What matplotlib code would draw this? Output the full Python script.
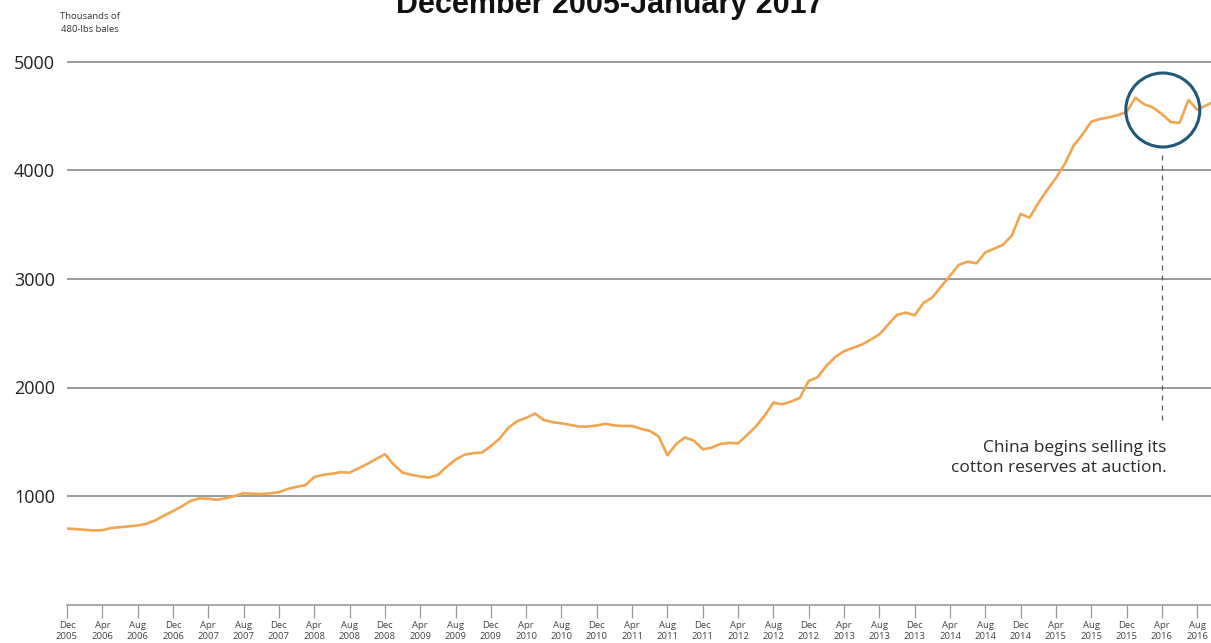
import matplotlib
matplotlib.use("Agg")
import matplotlib.pyplot as plt
from matplotlib.patches import Ellipse

# ---- data -------------------------------------------------------------
tick_labels = []
for i in range(33):
    m = (11 + 4 * i)
    yr = 2005 + m // 12
    mon = ["Jan", "Feb", "Mar", "Apr", "May", "Jun", "Jul", "Aug", "Sep", "Oct", "Nov", "Dec"][m % 12]
    tick_labels.append(f"{mon}\n{yr}")

stocks = [
    700, 695, 688, 682, 685, 705, 712, 720, 728, 745,
    775, 820, 860, 905, 955, 978, 975, 965, 980, 1000,
    1025, 1022, 1018, 1025, 1035, 1065, 1085, 1100, 1175, 1195,
    1205, 1220, 1215, 1255, 1295, 1340, 1385, 1290, 1215, 1195,
    1180, 1170, 1195, 1270, 1335, 1380, 1395, 1400, 1460, 1530,
    1630, 1690, 1720, 1760, 1700, 1680, 1670, 1655, 1640, 1640,
    1650, 1665, 1650, 1645, 1645, 1620, 1600, 1550, 1375, 1480,
    1540, 1510, 1430, 1445, 1480, 1490, 1485, 1560, 1640, 1740,
    1860, 1845, 1870, 1905, 2060, 2095, 2200, 2280, 2335, 2365,
    2395, 2440, 2490, 2580, 2670, 2690, 2665, 2780, 2830, 2930,
    3030, 3130, 3160, 3145, 3245, 3280, 3315, 3400, 3600, 3565,
    3700, 3820, 3930, 4060, 4230, 4330, 4450, 4475, 4490, 4510,
    4540, 4670, 4610, 4580, 4520, 4445, 4440, 4650, 4560, 4600,
    4640,
]
yticks = [1000, 2000, 3000, 4000, 5000]
event_month = 124  # Apr 2016
title = "December 2005-January 2017"
ylabel = "Thousands of\n480-lbs bales"
note = "China begins selling its\ncotton reserves at auction."

# ---- figure -----------------------------------------------------------
W, H = 1211, 643
fig = plt.figure(figsize=(W / 100, H / 100), dpi=100)
ax_left = 67 / W
ax_bottom = 1 - 604.5 / H
ax_top_px = 40.3
ax = fig.add_axes([ax_left, ax_bottom, 1 - ax_left, (604.5 - ax_top_px) / H])

x = list(range(len(stocks)))
ax.plot(x, stocks, color="#F2A550", lw=1.9, solid_joinstyle="round", zorder=3)

ax.set_xlim(0, (W - 67) / 8.83)
ax.set_ylim(0, 5200)

for v in yticks:
    ax.axhline(v, color="#9a9a9a", lw=1.4, zorder=1)

ax.set_yticks(yticks)
ax.set_yticklabels([str(v) for v in yticks], fontsize=13, family="Open Sans",
                   color="#222222")
ax.tick_params(axis="y", length=0, pad=8.5)

ax.set_xticks(range(0, 129, 4))
ax.set_xticklabels(tick_labels, fontsize=6.8, family="Open Sans", color="#444444",
                   linespacing=1.25)
ax.tick_params(axis="x", length=9, width=0.9, color="#9a9a9a", pad=3,
               direction="out")

for s in ["top", "right", "left"]:
    ax.spines[s].set_visible(False)
ax.spines["bottom"].set_color("#9a9a9a")
ax.spines["bottom"].set_linewidth(1.2)
ax.spines["bottom"].set_bounds(0, ax.get_xlim()[1])

# event marker: dashed line + circle
ax.plot([event_month, event_month], [1700, 4150], ls=(0, (4, 4)),
        color="#555555", lw=0.9, zorder=2)
circ_r_px = 37
circ = Ellipse((event_month + 0.1, (604.5 - 110) / 108.5 * 1000),
               width=2 * circ_r_px / 8.83, height=2 * circ_r_px / 108.5 * 1000,
               fill=False, ec="#1f5878", lw=2.2, zorder=4)
ax.add_patch(circ)

ax.text(event_month + 0.5, (604.5 - 440) / 108.5 * 1000, note, ha="right", va="top",
        fontsize=12.5, family="Open Sans", color="#2a2a2a", linespacing=1.3)

fig.text(610 / W, 1 - 13 / H, title, ha="center", va="baseline",
         fontsize=22, fontweight="bold", family="Liberation Sans", color="#111111")
fig.text(90 / W, 1 - 23 / H, ylabel, ha="center", va="center",
         fontsize=6.8, family="Open Sans", color="#333333", linespacing=1.45)

fig.savefig("out.png", dpi=100)
